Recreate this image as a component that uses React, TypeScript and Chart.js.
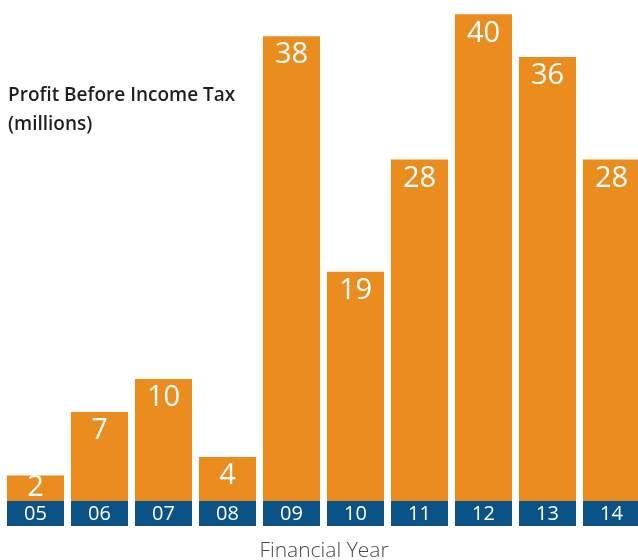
import React, { useEffect, useRef } from "react";
import { Chart, registerables } from "chart.js";

Chart.register(...registerables);

const categories = ["05", "06", "07", "08", "09", "10", "11", "12", "13", "14"];
const profit = [2.1, 7.3, 10.0, 3.6, 38.1, 18.8, 28.0, 39.9, 36.4, 28.0];
const titleLines = ["Profit Before Income Tax", "(millions)"];
const xAxisTitle = "Financial Year";

const ORANGE = "#EB8C1E";
const BLUE = "#0B5287";
const FONT = "'Open Sans', 'Noto Sans', sans-serif";

const overlay = {
  id: "overlay",
  afterDatasetsDraw(chart: any) {
    const ctx = chart.ctx;
    const meta = chart.getDatasetMeta(0);
    const area = chart.chartArea;
    const y = chart.scales.y;
    const zero = y.getPixelForValue(0);
    ctx.save();
    meta.data.forEach((bar: any, i: number) => {
      const p = bar.getProps(["x", "y", "width"], true);
      // blue strip with category label
      ctx.fillStyle = BLUE;
      ctx.fillRect(p.x - p.width / 2, zero, p.width, area.bottom - zero);
      ctx.fillStyle = "#ffffff";
      ctx.textAlign = "center";
      ctx.textBaseline = "middle";
      ctx.font = `400 20px ${FONT}`;
      ctx.fillText(categories[i], p.x, (zero + area.bottom) / 2 + 1);
      // value label
      ctx.font = `400 29px ${FONT}`;
      const ly = Math.min(p.y + 19, zero - 13);
      ctx.fillText(String(Math.round(profit[i])), p.x, ly);
    });
    // title
    ctx.fillStyle = "#1f1f1f";
    ctx.textAlign = "left";
    ctx.textBaseline = "alphabetic";
    ctx.font = `600 19px ${FONT}`;
    ctx.fillText(titleLines[0], 8, 101);
    ctx.fillText(titleLines[1], 8, 130);
    // x axis title
    ctx.fillStyle = "#4a4a4a";
    ctx.textAlign = "center";
    ctx.font = `300 21px ${FONT}`;
    ctx.fillText(xAxisTitle, 324, 557);
    ctx.restore();
  },
};

export default function App() {
  const ref = useRef<HTMLCanvasElement>(null);
  useEffect(() => {
    if (!ref.current) return;
    const chart = new Chart(ref.current, {
      type: "bar",
      data: {
        labels: categories,
        datasets: [
          {
            data: profit,
            backgroundColor: ORANGE,
            borderWidth: 0,
            barPercentage: 1,
            categoryPercentage: 57 / 64,
          },
        ],
      },
      options: {
        responsive: false,
        animation: false,
        events: [],
        layout: { padding: { left: 3.5, right: 2.5, top: 0, bottom: 34 } },
        plugins: { legend: { display: false }, tooltip: { enabled: false }, title: { display: false } },
        scales: {
          x: { display: false },
          y: { display: false, min: -2.05, max: 41.07 },
        },
      },
      plugins: [overlay],
    });
    return () => chart.destroy();
  }, []);
  return (
    <div style={{ position: "fixed", left: 0, top: 0, width: 638, height: 560, overflow: "hidden", background: "#fff" }}>
      <canvas ref={ref} width={646} height={560} style={{ display: "block" }} />
    </div>
  );
}
